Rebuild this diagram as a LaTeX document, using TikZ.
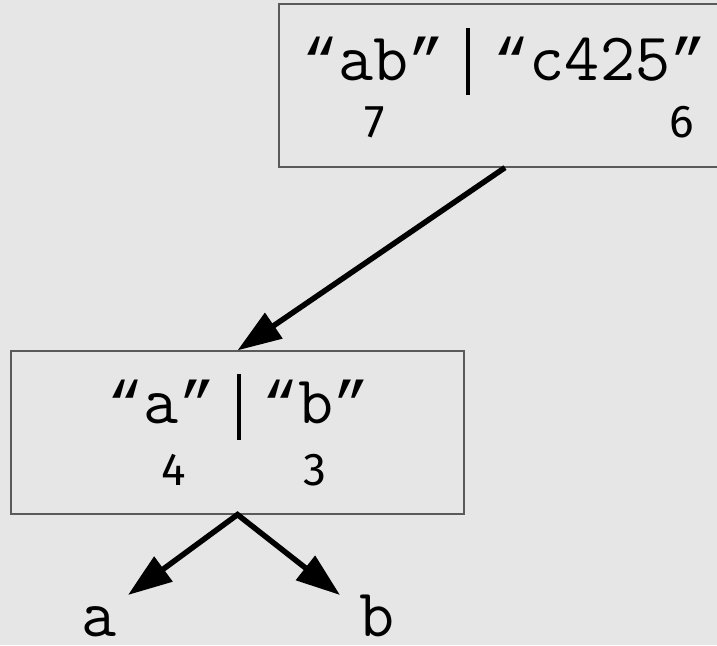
\documentclass[tikz,border=0pt]{standalone}
\usepackage{fontspec}
\setmainfont{Fira Sans}
\newfontfamily\numfont{Fira Sans}
\newfontfamily\qfont{Liberation Mono}
\newcommand\openq{{\qfont\fontsize{60}{60}\selectfont “}}
\newcommand\closeq{{\qfont\fontsize{60}{60}\selectfont ”}}
\usetikzlibrary{arrows.meta}
\definecolor{bg}{HTML}{E6E6E6}
\definecolor{edge}{HTML}{5A5A5A}
\begin{document}
\begin{tikzpicture}[x=1pt,y=-1pt,
  box/.style={draw=edge,line width=1.2pt,rectangle,inner sep=0pt},
  code/.style={font=\ttfamily\fontsize{68}{68}\selectfont,inner sep=0pt,anchor=base},
  num/.style={font=\numfont\fontsize{46}{46}\selectfont,inner sep=0pt,anchor=center},
  divider/.style={line width=3.5pt},
  conn/.style={line width=5.5pt,line join=miter,-{Triangle[length=44pt,width=30pt]}}]
\useasboundingbox (0,0) rectangle (717,645);
\fill[bg] (0,0) rectangle (717,645);
\clip (0,0) rectangle (717,645);
% boxes
\node[box,minimum width=442pt,minimum height=163pt] (top) at (500,85.5) {};
\node[box,minimum width=453pt,minimum height=163pt] (mid) at (237.5,432.5) {};
% top box content
\node[code] (tl) at (373.5,80) {\openq ab\closeq};
\node[code] (tr) at (600,80) {\openq c425\closeq};
\draw[divider] (468,28) -- (468,95);
\node[num] (n7) at (375,122) {7};
\node[num] (n6) at (682,122) {6};
% mid box content
\node[code] (ml) at (161.5,423) {\openq a\closeq};
\node[code] (mr) at (316,423) {\openq b\closeq};
\draw[divider] (239,374) -- (239,440);
\node[num] (n4) at (174,470) {4};
\node[num] (n3) at (315,470) {3};
% leaves
\node[code] (la) at (99,636) {a};
\node[code] (lb) at (377,636) {b};
\coordinate (ta) at (128,595);
\coordinate (tb) at (340,595);
% connectors
\draw[conn] ([xshift=5pt]top.south) -- (mid.north);
\draw[conn,{Triangle[length=44pt,width=30pt]}-{Triangle[length=44pt,width=30pt]}] (ta) -- (mid.south) -- (tb);
\end{tikzpicture}
\end{document}
